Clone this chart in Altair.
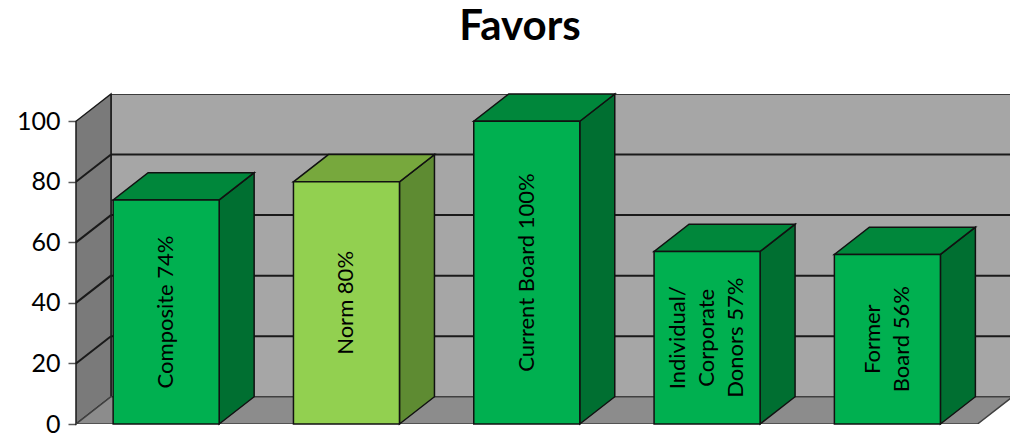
import altair as alt
import pandas as pd

# ---- data ----
categories = ["Composite", "Norm", "Current Board", "Individual/Corporate Donors", "Former Board"]
label_lines = [["Composite 74%"], ["Norm 80%"], ["Current Board 100%"],
               ["Individual/", "Corporate", "Donors 57%"], ["Former", "Board 56%"]]
values = [74, 80, 100, 57, 56]
front_colors = ["#00B050", "#92D050", "#00B050", "#00B050", "#00B050"]
top_colors = ["#00873B", "#77A83D", "#00873B", "#00873B", "#00873B"]
side_colors = ["#006F31", "#5E8B32", "#006F31", "#006F31", "#006F31"]
y_ticks = [0, 20, 40, 60, 80, 100]

# ---- 3D geometry (style constants) ----
HW = 0.294     # half width of a bar's front face (category units)
DX = 0.194     # depth offset, horizontal (category units)
DY = 9         # depth offset, vertical (value units)
LS = 0.16      # spacing between label lines (category units)
X_MIN, X_MAX = -0.5, 4.68
X_END = len(categories) - 0.5
Y_TOP = 100
Y_DOM = [0, Y_TOP + DY]

xs = alt.Scale(domain=[X_MIN, X_MAX], nice=False, zero=False)
ys = alt.Scale(domain=Y_DOM, nice=False, zero=False)
yaxis = alt.Axis(values=y_ticks, title=None, domain=False, grid=False, tickSize=8,
                 tickColor="#595959", tickWidth=1.5, labelFontSize=25, labelFont="Lato",
                 labelColor="black", labelPadding=8)


def X(f="x"):
    return alt.X(f"{f}:Q", scale=xs, axis=None)


def Y(f="y"):
    return alt.Y(f"{f}:Q", scale=ys, axis=yaxis)


# back wall
back = pd.DataFrame([{"x": X_MIN + DX, "x2": X_MAX + 0.3, "y": DY, "y2": Y_TOP + DY}])
back_layer = alt.Chart(back).mark_rect(fill="#A6A6A6", stroke="#1A1A1A", strokeWidth=1.5, clip=True).encode(
    x=X(), x2="x2:Q", y=Y(), y2="y2:Q")

# back wall gridlines
bg = pd.DataFrame([{"x": X_MIN + DX, "x2": X_MAX + 0.3, "y": v + DY, "y2": v + DY} for v in y_ticks[1:-1]])
bg_layer = alt.Chart(bg).mark_rule(color="#1A1A1A", strokeWidth=2, clip=True).encode(
    x=X(), x2="x2:Q", y=Y(), y2="y2:Q")

# left wall
lw = pd.DataFrame([{"x": X_MIN, "y": 0, "y2": Y_TOP}, {"x": X_MIN + DX, "y": DY, "y2": Y_TOP + DY}])
lw_layer = alt.Chart(lw).mark_area(fill="#7A7A7A", stroke="#1A1A1A", strokeWidth=1.5).encode(
    x=X(), y=Y(), y2="y2:Q")

# left wall gridlines
lg = pd.DataFrame([{"x": X_MIN, "x2": X_MIN + DX, "y": v, "y2": v + DY} for v in y_ticks[1:-1]])
lg_layer = alt.Chart(lg).mark_rule(color="#1A1A1A", strokeWidth=2).encode(
    x=X(), x2="x2:Q", y=Y(), y2="y2:Q")

# floor
fl = pd.DataFrame([
    {"x": X_MIN, "y": 0, "y2": 0},
    {"x": X_MIN + DX, "y": 0, "y2": DY},
    {"x": X_END, "y": 0, "y2": DY},
    {"x": X_END + DX, "y": DY, "y2": DY},
])
fl_layer = alt.Chart(fl).mark_area(fill="#8C8C8C", stroke="#404040", strokeWidth=1.5, clip=True).encode(
    x=X(), y=Y(), y2="y2:Q")

# bar faces
side_rows, top_rows, front_rows, text_rows = [], [], [], []
for i, (v, fc, tc, sc, lines) in enumerate(zip(values, front_colors, top_colors, side_colors, label_lines)):
    side_rows += [
        {"pid": f"s{i}", "c": sc, "x": i + HW, "y": 0, "y2": v},
        {"pid": f"s{i}", "c": sc, "x": i + HW + DX, "y": DY, "y2": v + DY},
    ]
    top_rows += [
        {"pid": f"t{i}", "c": tc, "x": i - HW, "y": v, "y2": v},
        {"pid": f"t{i}", "c": tc, "x": i - HW + DX, "y": v, "y2": v + DY},
        {"pid": f"t{i}", "c": tc, "x": i + HW, "y": v, "y2": v + DY},
        {"pid": f"t{i}", "c": tc, "x": i + HW + DX, "y": v + DY, "y2": v + DY},
    ]
    front_rows.append({"c": fc, "x": i - HW, "x2": i + HW, "y": 0, "y2": v})
    n = len(lines)
    for j, line in enumerate(lines):
        text_rows.append({"x": i + (j - (n - 1) / 2) * LS, "y": v / 2, "label": line})

side_layer = alt.Chart(pd.DataFrame(side_rows)).mark_area(stroke="#111111", strokeWidth=1.5).encode(
    x=X(), y=Y(), y2="y2:Q", detail="pid:N", color=alt.Color("c:N", scale=None))
top_layer = alt.Chart(pd.DataFrame(top_rows)).mark_area(stroke="#111111", strokeWidth=1.5).encode(
    x=X(), y=Y(), y2="y2:Q", detail="pid:N", color=alt.Color("c:N", scale=None))
front_layer = alt.Chart(pd.DataFrame(front_rows)).mark_rect(stroke="#111111", strokeWidth=1.5).encode(
    x=X(), x2="x2:Q", y=Y(), y2="y2:Q", color=alt.Color("c:N", scale=None))
text_layer = alt.Chart(pd.DataFrame(text_rows)).mark_text(
    angle=270, align="center", baseline="middle", fontSize=22, font="Lato",
    color="black").encode(
    x=X(), y=Y(), text="label:N")

chart = alt.layer(
    back_layer, bg_layer, lw_layer, lg_layer, fl_layer,
    side_layer, top_layer, front_layer, text_layer
).properties(
    width=934, height=330,
    autosize=alt.AutoSizeParams(type="none"),
    padding={"left": 76, "top": 94, "right": 0, "bottom": 10},
    title=alt.TitleParams("Favors", fontSize=42, fontWeight="bold", font="Lato",
                          color="black", anchor="middle", dx=-23, offset=42),
    background="white",
).configure_view(stroke=None)

chart.save("out.html", embed_options={"renderer": "svg", "actions": False})
